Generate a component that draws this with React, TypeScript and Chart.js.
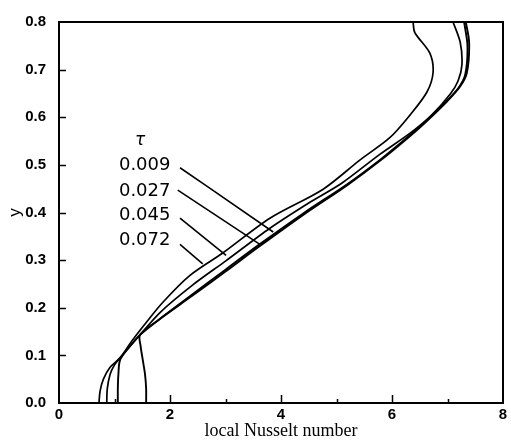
import React, { useEffect, useRef } from 'react';
import { Chart, registerables } from 'chart.js';

Chart.register(...registerables);

// ---- data (local Nusselt number vs y, for four dimensionless times tau) ----
const tauLabels = ['0.009', '0.027', '0.045', '0.072'];

const nu009 = [1.57, 1.57, 1.55, 1.51, 1.47, 1.46, 1.8, 2.4, 3.0, 3.6, 4.4, 5.2, 5.8, 6.3, 6.6, 6.99, 7.23, 7.35, 7.39, 7.33];
const y009 = [0, 0.03, 0.06, 0.09, 0.12, 0.143, 0.175, 0.225, 0.276, 0.328, 0.395, 0.458, 0.51, 0.558, 0.589, 0.633, 0.665, 0.694, 0.757, 0.8];

const nu027 = [1.06, 1.06, 1.07, 1.1, 1.25, 1.46, 1.82, 2.4, 3.0, 3.6, 4.4, 5.2, 5.8, 6.3, 6.6, 6.99, 7.2, 7.32, 7.36, 7.3];
const y027 = [0, 0.03, 0.06, 0.09, 0.115, 0.143, 0.177, 0.228, 0.28, 0.332, 0.398, 0.46, 0.512, 0.56, 0.591, 0.635, 0.662, 0.69, 0.75, 0.8];

const nu045 = [0.86, 0.87, 0.92, 1.0, 1.1, 1.4, 1.82, 2.4, 3.0, 3.8, 4.5, 5.1, 5.78, 6.32, 6.7, 7.05, 7.19, 7.26, 7.23, 7.1];
const y045 = [0, 0.03, 0.06, 0.08, 0.095, 0.135, 0.19, 0.247, 0.298, 0.367, 0.42, 0.462, 0.522, 0.566, 0.603, 0.649, 0.676, 0.71, 0.757, 0.8];

const nu072 = [0.72, 0.74, 0.8, 0.92, 1.1, 1.3, 1.51, 1.86, 2.36, 2.95, 3.8, 4.76, 5.42, 5.96, 6.32, 6.63, 6.74, 6.68, 6.41, 6.38];
const y072 = [0, 0.025, 0.05, 0.075, 0.095, 0.128, 0.16, 0.21, 0.268, 0.315, 0.388, 0.449, 0.51, 0.557, 0.604, 0.653, 0.694, 0.735, 0.778, 0.8];

const xMin = 0;
const xMax = 8;
const xLabelledTicks = [0, 2, 4, 6, 8];
const yMin = 0;
const yMax = 0.8;
const yStep = 0.1;

const xTitle = 'local Nusselt number';
const yTitle = 'y';
const tauSymbol = 'τ';

// annotation anchors (data coordinates) for the tau labels and their leader lines
const tauHeaderPos = { x: 1.46, y: 0.552 };
const labelPos = [
  { x: 1.08, y: 0.498 },
  { x: 1.08, y: 0.445 },
  { x: 1.08, y: 0.394 },
  { x: 1.08, y: 0.341 },
];
const leaders = [
  [{ x: 2.18, y: 0.494 }, { x: 2.67, y: 0.455 }, { x: 3.86, y: 0.359 }],
  [{ x: 2.14, y: 0.447 }, { x: 3.62, y: 0.333 }],
  [{ x: 2.18, y: 0.388 }, { x: 3.01, y: 0.31 }],
  [{ x: 2.18, y: 0.333 }, { x: 2.59, y: 0.292 }],
];

const series = [
  { nu: nu009, y: y009 },
  { nu: nu027, y: y027 },
  { nu: nu045, y: y045 },
  { nu: nu072, y: y072 },
];

const decorPlugin = {
  id: 'decor',
  afterDraw(chart: any) {
    const { ctx, chartArea: a, scales } = chart;
    const xs = scales.x;
    const ys = scales.y;
    ctx.save();
    ctx.strokeStyle = '#000';
    ctx.fillStyle = '#000';
    // frame
    ctx.lineWidth = 2;
    ctx.strokeRect(a.left, a.top, a.right - a.left, a.bottom - a.top);
    // inward y ticks
    ctx.lineWidth = 1.5;
    for (let v = yMin + yStep; v < yMax - 1e-9; v += yStep) {
      const py = Math.round(ys.getPixelForValue(v)) + 0.5;
      ctx.beginPath();
      ctx.moveTo(a.left, py);
      ctx.lineTo(a.left + 7, py);
      ctx.stroke();
    }
    // inward x ticks
    for (let v = xMin + 1; v < xMax; v += 1) {
      const px = Math.round(xs.getPixelForValue(v)) + 0.5;
      const len = v % 2 === 0 ? 8 : 4;
      ctx.beginPath();
      ctx.moveTo(px, a.bottom);
      ctx.lineTo(px, a.bottom - len);
      ctx.stroke();
    }
    // tau header
    ctx.font = 'italic 17px "DejaVu Sans"';
    ctx.textAlign = 'center';
    ctx.textBaseline = 'middle';
    ctx.fillText(tauSymbol, xs.getPixelForValue(tauHeaderPos.x), ys.getPixelForValue(tauHeaderPos.y));
    // labels
    ctx.font = '18px "DejaVu Sans"';
    ctx.textAlign = 'left';
    tauLabels.forEach((t, i) => {
      ctx.fillText(t, xs.getPixelForValue(labelPos[i].x), ys.getPixelForValue(labelPos[i].y));
    });
    // leaders
    ctx.lineWidth = 1.6;
    leaders.forEach((pts) => {
      ctx.beginPath();
      pts.forEach((p, j) => {
        const px = xs.getPixelForValue(p.x);
        const py = ys.getPixelForValue(p.y);
        if (j === 0) ctx.moveTo(px, py);
        else ctx.lineTo(px, py);
      });
      ctx.stroke();
    });
    ctx.restore();
  },
};

export default function App() {
  const ref = useRef<HTMLCanvasElement | null>(null);
  useEffect(() => {
    if (!ref.current) return;
    const chart = new Chart(ref.current, {
      type: 'line',
      data: {
        datasets: series.map((s, i) => ({
          label: tauLabels[i],
          data: s.nu.map((x, k) => ({ x, y: s.y[k] })),
          borderColor: '#000',
          borderWidth: i < 2 ? 1.9 : 1.7,
          pointRadius: 0,
          tension: 0.3,
          fill: false,
        })),
      },
      options: {
        animation: false,
        responsive: false,
        layout: { padding: { top: 11, right: 8, bottom: 0, left: 0 } },
        plugins: { legend: { display: false }, tooltip: { enabled: false } },
        scales: {
          x: {
            type: 'linear',
            min: xMin,
            max: xMax,
            grid: { display: false, drawTicks: false },
            border: { display: false },
            ticks: {
              stepSize: 1,
              autoSkip: false,
              maxRotation: 0,
              padding: 3,
              color: '#000',
              font: { family: 'Liberation Sans', size: 15, weight: 'bold' },
              callback: (v: any) => (xLabelledTicks.includes(Number(v)) ? String(v) : ''),
            },
            title: {
              display: true,
              text: xTitle,
              color: '#000',
              font: { family: 'Liberation Serif', size: 18 },
              padding: { top: 0, bottom: 3 },
            },
            afterFit: (s: any) => {
              s.height = 42;
            },
          },
          y: {
            type: 'linear',
            min: yMin,
            max: yMax,
            grid: { display: false, drawTicks: false },
            border: { display: false },
            ticks: {
              stepSize: yStep,
              padding: 13,
              color: '#000',
              font: { family: 'Liberation Sans', size: 15, weight: 'bold' },
              callback: (v: any) => Number(v).toFixed(1),
            },
            title: {
              display: true,
              text: yTitle,
              color: '#000',
              font: { family: 'Liberation Sans', size: 17 },
              padding: { top: 5, bottom: 0 },
            },
            afterFit: (s: any) => {
              s.width = 59;
            },
          },
        },
      },
      plugins: [decorPlugin],
    });
    return () => chart.destroy();
  }, []);
  return (
    <div style={{ position: 'absolute', left: 0, top: 0, width: 511, height: 445, background: '#fff' }}>
      <canvas ref={ref} width={511} height={445} style={{ display: 'block' }} />
    </div>
  );
}
